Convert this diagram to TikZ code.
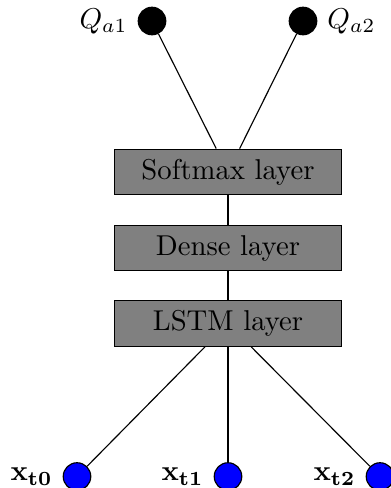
\documentclass[tikz,border=0pt]{standalone}
\begin{document}
\begin{tikzpicture}[x=0.3485pt,y=-0.3485pt,
  layerbox/.style={draw=black,fill=black!50,minimum width=79.4pt,minimum height=15.9pt,inner sep=0pt,font=\normalsize},
  outnode/.style={circle,draw=black,fill=black,minimum size=9.6pt,inner sep=0pt},
  innode/.style={circle,draw=black,fill=blue,minimum size=9.6pt,inner sep=0pt},
  conn/.style={draw=black,line width=0.4pt}]
\useasboundingbox (0,0) rectangle (391,488);
\clip (0,0) rectangle (391,488);
\node[layerbox] (soft) at (228,172) {Softmax layer};
\node[layerbox] (dense) at (228,248) {Dense layer};
\node[layerbox] (lstm) at (228,323.5) {LSTM layer};
\node[outnode,label={left:$Q_{a1}$}] (q1) at (152,21) {};
\node[outnode,label={right:$Q_{a2}$}] (q2) at (303,21) {};
\node[innode,label={left:$\mathbf{x_{t0}}$}] (x0) at (77,476.5) {};
\node[innode,label={left:$\mathbf{x_{t1}}$}] (x1) at (228,476.5) {};
\node[innode,label={left:$\mathbf{x_{t2}}$}] (x2) at (380,476.5) {};
\draw[conn] (q1) -- (soft);
\draw[conn] (q2) -- (soft);
\draw[conn] (soft) -- (dense);
\draw[conn] (dense) -- (lstm);
\draw[conn] (lstm) -- (x0);
\draw[conn] (lstm) -- (x1);
\draw[conn] (lstm) -- (x2);
\end{tikzpicture}
\end{document}
